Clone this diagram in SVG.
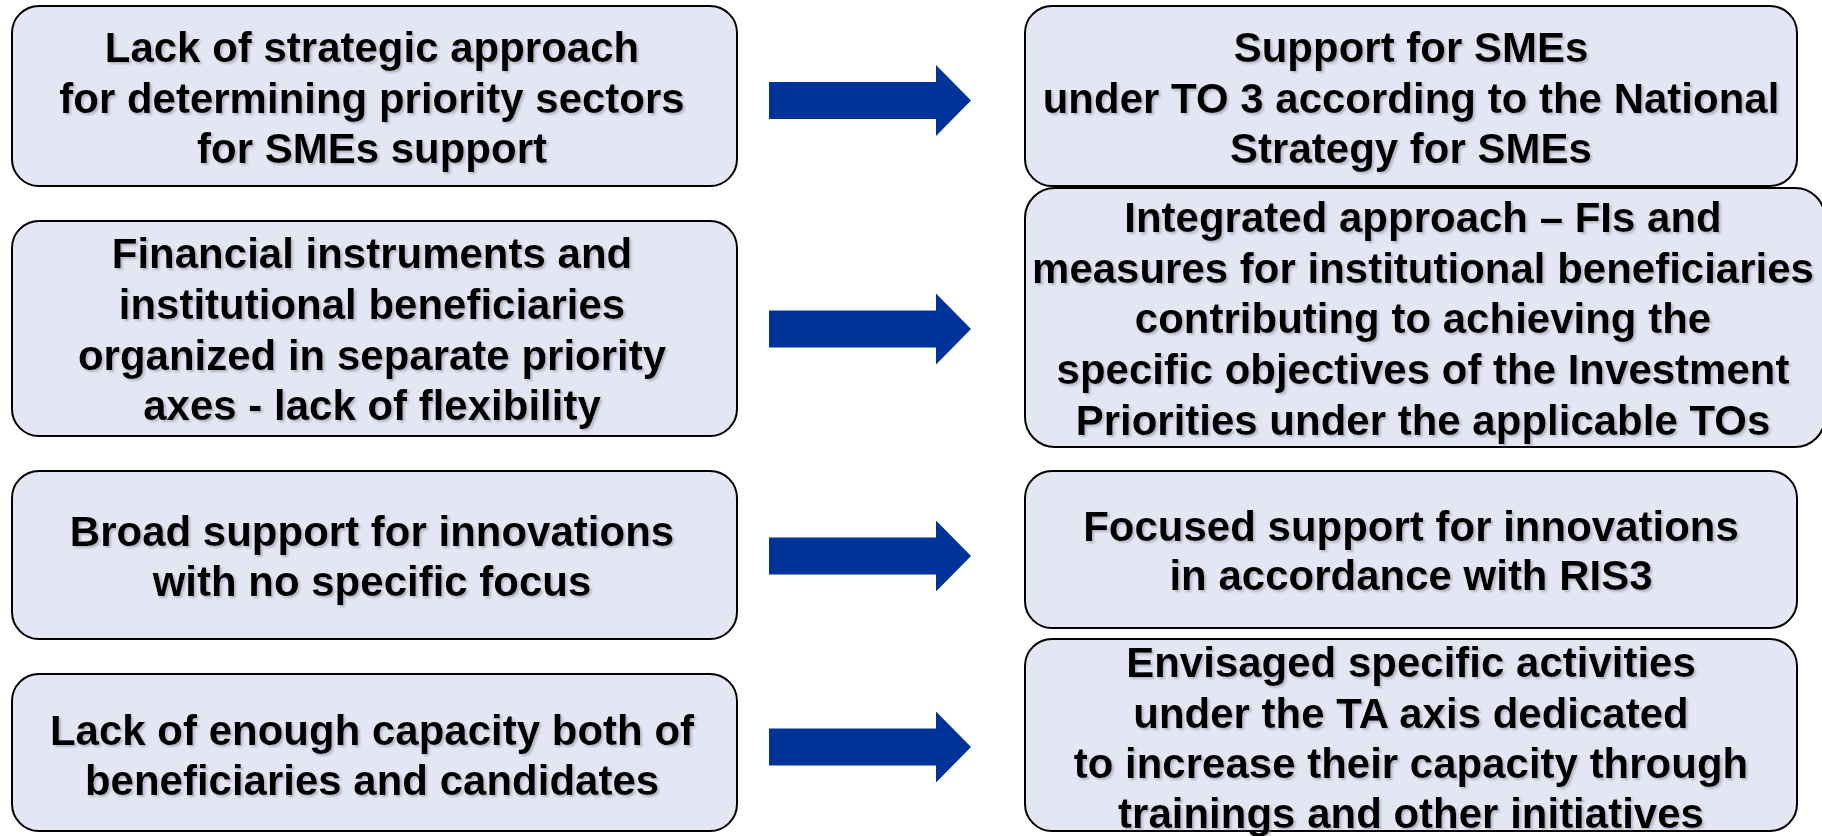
<svg xmlns="http://www.w3.org/2000/svg" width="1822" height="836" viewBox="0 0 1822 836">
<defs>
<filter id="ts" x="-5%" y="-30%" width="110%" height="160%">
<feDropShadow dx="2" dy="2" stdDeviation="1.2" flood-color="#8c8c9c" flood-opacity="0.55"/>
</filter>
<path id="arr" d="M0,-18.5 H167 V-35.5 L202,0 L167,35.5 V18.5 H0 Z"/>
</defs>
<style>
.box{fill:#E5E6F4;stroke:#000;stroke-width:2}
.t{font-family:"Liberation Sans",Arial,sans-serif;font-weight:bold;font-size:42px;fill:#000;text-anchor:middle;filter:url(#ts)}
.a{fill:#003399}
</style>
<rect width="1822" height="836" fill="#fff"/>

<g id="connectors">
<use href="#arr" class="a" x="769" y="100.5"/>
<use href="#arr" class="a" x="769" y="329"/>
<use href="#arr" class="a" x="769" y="556"/>
<use href="#arr" class="a" x="769" y="747"/>
</g>

<g id="left1">
<rect class="box" x="12" y="6" width="725" height="180" rx="27"/>
<text class="t" x="372"><tspan x="372" y="62">Lack of strategic approach</tspan><tspan x="372" y="113">for determining priority sectors</tspan><tspan x="372" y="163">for SMEs support</tspan></text>
</g>

<g id="left2">
<rect class="box" x="12" y="221" width="725" height="215" rx="27"/>
<text class="t"><tspan x="372" y="268">Financial instruments and</tspan><tspan x="372" y="319">institutional beneficiaries</tspan><tspan x="372" y="370">organized in separate priority</tspan><tspan x="372" y="420">axes - lack of flexibility</tspan></text>
</g>

<g id="left3">
<rect class="box" x="12" y="471" width="725" height="168" rx="27"/>
<text class="t"><tspan x="372" y="546">Broad support for innovations</tspan><tspan x="372" y="596">with no specific focus</tspan></text>
</g>

<g id="left4">
<rect class="box" x="12" y="674" width="725" height="157" rx="27"/>
<text class="t"><tspan x="372" y="745">Lack of enough capacity both of</tspan><tspan x="372" y="795">beneficiaries and candidates</tspan></text>
</g>

<g id="right1">
<rect class="box" x="1025" y="6" width="772" height="180" rx="27"/>
<text class="t"><tspan x="1411" y="62">Support for SMEs</tspan><tspan x="1411" y="113">under TO 3 according to the National</tspan><tspan x="1411" y="163">Strategy for SMEs</tspan></text>
</g>

<g id="right2">
<rect class="box" x="1025" y="188" width="800" height="259" rx="30"/>
<text class="t"><tspan x="1423" y="232">Integrated approach – FIs and</tspan><tspan x="1423" y="283">measures for institutional beneficiaries</tspan><tspan x="1423" y="333">contributing to achieving the</tspan><tspan x="1423" y="384">specific objectives of the Investment</tspan><tspan x="1423" y="435">Priorities under the applicable TOs</tspan></text>
</g>

<g id="right3">
<rect class="box" x="1025" y="471" width="772" height="157" rx="27"/>
<text class="t"><tspan x="1411" y="541">Focused support for innovations</tspan><tspan x="1411" y="590">in accordance with RIS3</tspan></text>
</g>

<g id="right4">
<rect class="box" x="1025" y="639" width="772" height="192" rx="27"/>
<text class="t"><tspan x="1411" y="677">Envisaged specific activities</tspan><tspan x="1411" y="728">under the TA axis dedicated</tspan><tspan x="1411" y="778">to increase their capacity through</tspan><tspan x="1411" y="828">trainings and other initiatives</tspan></text>
</g>
</svg>
